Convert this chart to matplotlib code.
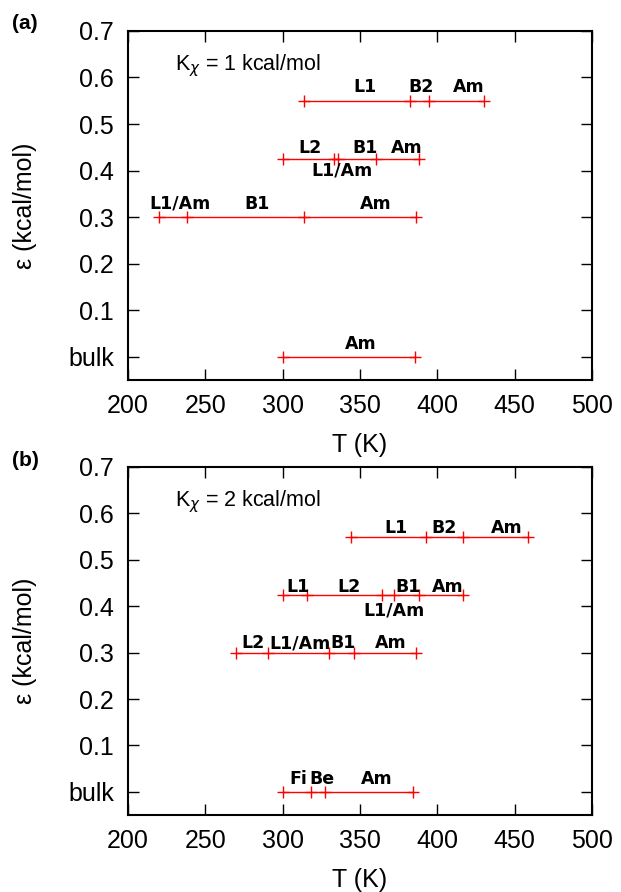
import matplotlib
matplotlib.use("Agg")
import matplotlib.pyplot as plt

# ---------------- data ----------------
eps_rows = [0.55, 0.425, 0.3, 0.0]
ytick_vals = [0.0, 0.1, 0.2, 0.3, 0.4, 0.5, 0.6, 0.7]
ytick_labels = ["bulk", "0.1", "0.2", "0.3", "0.4", "0.5", "0.6", "0.7"]
xtick_vals = [200, 250, 300, 350, 400, 450, 500]

# panel (a): K_chi = 1 kcal/mol -- transition temperatures per row
a_T_055 = [314, 382.3, 394.4, 430.3]
a_T_0425 = [300, 333.4, 335.7, 360.3, 388.3]
a_T_03 = [220, 238, 314, 386]
a_T_bulk = [300, 385.5]
a_lab_055 = [("L1", 353.2), ("B2", 389.6), ("Am", 420.3)]
a_lab_0425 = [("L2", 317.9), ("B1", 353.4), ("Am", 380.5)]
a_lab_0425_below = [("L1/Am", 338.2)]
a_lab_03 = [("L1/Am", 233.9), ("B1", 283.5), ("Am", 360.5)]
a_lab_bulk = [("Am", 350.3)]

# panel (b): K_chi = 2 kcal/mol
b_T_055 = [344, 392.4, 416.3, 458.6]
b_T_0425 = [300, 316, 364.2, 372, 388, 416.7]
b_T_03 = [269.8, 290.3, 330.2, 346, 386.2]
b_T_bulk = [300, 318.3, 327.3, 384]
b_lab_055 = [("L1", 373), ("B2", 404.6), ("Am", 445)]
b_lab_0425 = [("L1", 309.6), ("L2", 342.8), ("B1", 381.2), ("Am", 406.6)]
b_lab_0425_below = [("L1/Am", 372.1)]
b_lab_03 = [("L2", 280.8), ("L1/Am", 311.5), ("B1", 339.2), ("Am", 369.7)]
b_lab_bulk = [("Fi", 309.9), ("Be", 325.5), ("Am", 360.8)]

# ---------------- style ----------------
plt.rcParams["font.family"] = ["Liberation Sans", "DejaVu Sans"]
plt.rcParams["mathtext.fontset"] = "dejavusans"

fig = plt.figure(figsize=(6.21, 8.92), dpi=100)
ax_a = fig.add_axes([0.2061, 0.5740, 0.7472, 0.3913])
ax_b = fig.add_axes([0.2061, 0.0863, 0.7472, 0.3902])

panels = [
    (ax_a, "(a)", r"K$_{\chi}$ = 1 kcal/mol",
     [a_T_055, a_T_0425, a_T_03, a_T_bulk],
     [a_lab_055, a_lab_0425, a_lab_03, a_lab_bulk],
     a_lab_0425_below,
     [0.029, 0.023, 0.029, 0.027], -0.025),
    (ax_b, "(b)", r"K$_{\chi}$ = 2 kcal/mol",
     [b_T_055, b_T_0425, b_T_03, b_T_bulk],
     [b_lab_055, b_lab_0425, b_lab_03, b_lab_bulk],
     b_lab_0425_below,
     [0.018, 0.016, 0.020, 0.028], -0.035),
]

for ax, tag, ktext, rowsT, rowsLab, below, offs, boff in panels:
    for eps, Ts, labs, off in zip(eps_rows, rowsT, rowsLab, offs):
        ax.plot(Ts, [eps] * len(Ts), color="#ff0000", lw=1.0, marker="+",
                markersize=8, mew=1.0, zorder=3)
        for name, x in labs:
            ax.text(x, eps + off, name, ha="center", va="center",
                    fontsize=12.5, fontweight="bold", family="DejaVu Sans")
    for name, x in below:
        ax.text(x, eps_rows[1] + boff, name, ha="center", va="center",
                fontsize=12.5, fontweight="bold", family="DejaVu Sans")

    ax.set_xlim(200, 500)
    ax.set_ylim(-0.05, 0.7)
    ax.set_xticks(xtick_vals)
    ax.set_yticks(ytick_vals)
    ax.set_yticklabels(ytick_labels)
    ax.tick_params(direction="in", length=8, width=1.0, top=True, right=True,
                   labelsize=18, pad=10)
    for s in ax.spines.values():
        s.set_linewidth(1.5)
    ax.set_xlabel("T (K)", fontsize=18)
    ax.xaxis.set_label_coords(0.5, -0.153)
    ax.set_ylabel("ε (kcal/mol)", fontsize=18)
    ax.yaxis.set_label_coords(-0.196, 0.5)
    ax.text(0.101, 0.887, ktext, transform=ax.transAxes, fontsize=15.5,
            ha="left", va="baseline")
    ax.text(-0.222, 1.02, tag, transform=ax.transAxes, fontsize=15,
            fontweight="bold", ha="center", va="center")

fig.savefig("out.png", dpi=100)
